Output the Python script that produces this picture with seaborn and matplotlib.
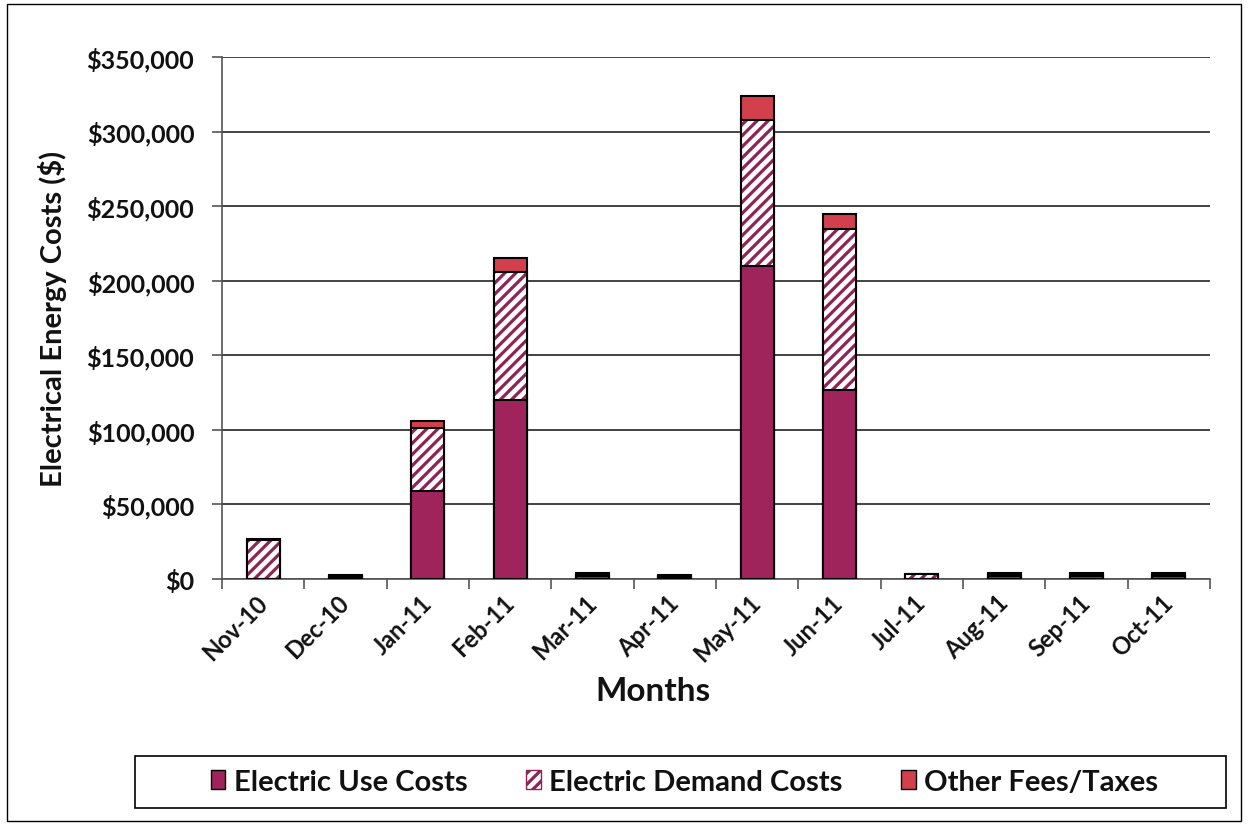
import matplotlib
matplotlib.use("Agg")
import matplotlib.pyplot as plt
import matplotlib.patches as mpatches
from matplotlib.ticker import FuncFormatter, FixedLocator
import numpy as np
import pandas as pd
import seaborn as sns

# Monthly electrical costs, split into three components ($)
months = ["Nov-10", "Dec-10", "Jan-11", "Feb-11", "Mar-11", "Apr-11",
          "May-11", "Jun-11", "Jul-11", "Aug-11", "Sep-11", "Oct-11"]
use_costs = [0, 1200, 59000, 120000, 2200, 1200, 210000, 127000, 0, 2200, 2200, 2200]
demand_costs = [26000, 800, 42000, 86000, 1400, 1000, 98000, 108000, 3000, 1400, 1400, 1400]
other_fees = [500, 400, 5000, 9000, 600, 400, 16000, 10000, 200, 600, 600, 600]

series_labels = ["Electric Use Costs", "Electric Demand Costs", "Other Fees/Taxes"]

USE_COLOR = "#A0245C"
DEMAND_COLOR = "#8E2456"
OTHER_COLOR = "#D2404E"
TEXT_COLOR = "#111111"

df = pd.DataFrame({"month": months, "use": use_costs,
                   "demand": demand_costs, "other": other_fees})
df["use_demand"] = df["use"] + df["demand"]
df["total"] = df["use_demand"] + df["other"]

sns.set_theme(style="white")
plt.rcParams["font.family"] = ["Lato", "DejaVu Sans"]
plt.rcParams["hatch.linewidth"] = 2.3

fig = plt.figure(figsize=(12.48, 8.29), dpi=100)
ax = fig.add_axes([0.178, 0.3004, 0.7916, 0.6296])

bar_w = 0.40
common = dict(data=df, x="month", order=months, width=bar_w, ax=ax,
              saturation=1, errorbar=None)

# Stacked bars drawn as overlapping cumulative totals
sns.barplot(y="total", color=OTHER_COLOR, edgecolor="black", linewidth=1.5, **common)
sns.barplot(y="use_demand", color="white", edgecolor=DEMAND_COLOR, linewidth=0,
            hatch="///", **common)
sns.barplot(y="use_demand", fill=False, color="black", linewidth=1.5, **common)
sns.barplot(y="use", color=USE_COLOR, edgecolor="black", linewidth=1.5, **common)

for p in ax.patches:
    p.set_zorder(3)

ax.set_xlim(-0.5, len(months) - 0.5)
ax.set_ylim(0, 350000)
ax.set_yticks(np.arange(0, 350001, 50000))
ax.yaxis.set_major_formatter(FuncFormatter(lambda v, _: f"${v:,.0f}"))
ax.grid(axis="y", color="#222222", linewidth=1.2, zorder=0)
ax.grid(axis="x", visible=False)
ax.set_axisbelow(True)

for side in ("top", "right"):
    ax.spines[side].set_visible(False)
for side in ("left", "bottom"):
    ax.spines[side].set_color("#555555")
    ax.spines[side].set_linewidth(1.2)

ax.tick_params(axis="y", which="major", left=True, length=7, width=1.2,
               color="#555555", labelsize=18, pad=13)
ax.xaxis.set_minor_locator(FixedLocator(np.arange(-0.5, len(months), 1.0)))
ax.tick_params(axis="x", which="minor", bottom=True, length=7, width=1.2, color="#555555")
ax.tick_params(axis="x", which="major", bottom=False, length=0, pad=14)
for lbl in ax.get_xticklabels():
    lbl.set_rotation(45)
    lbl.set_ha("right")
    lbl.set_va("center")
    lbl.set_rotation_mode("anchor")
    lbl.set_fontsize(17)
    lbl.set_fontweight("bold")
    lbl.set_color(TEXT_COLOR)
for lbl in ax.get_yticklabels():
    lbl.set_fontweight("bold")
    lbl.set_color(TEXT_COLOR)

ax.set_xlabel("")
ax.set_ylabel("Electrical Energy Costs ($)", fontsize=21, fontweight="bold",
              color=TEXT_COLOR, labelpad=14)
fig.text(0.523, 0.166, "Months", fontsize=24, fontweight="bold",
         ha="center", va="center", color=TEXT_COLOR)

handles = [
    mpatches.Patch(facecolor=USE_COLOR, edgecolor="black", linewidth=1.0),
    mpatches.Patch(facecolor="white", edgecolor=DEMAND_COLOR, hatch="///", linewidth=1.0),
    mpatches.Patch(facecolor=OTHER_COLOR, edgecolor="black", linewidth=1.0),
]
leg = fig.legend(handles, series_labels, loc="center", ncol=3,
                 bbox_to_anchor=(0.5485, 0.0555), frameon=False,
                 prop={"size": 21, "weight": "bold"},
                 handlelength=0.5, handleheight=0.6, handletextpad=0.3,
                 columnspacing=2.0)
for t in leg.get_texts():
    t.set_color(TEXT_COLOR)

# Legend box and outer chart border
fig.patches.append(mpatches.Rectangle((135 / 1248, 1 - 809 / 829), 1091 / 1248, 52 / 829,
                                      fill=False, edgecolor="black", linewidth=1.2,
                                      transform=fig.transFigure, figure=fig))
fig.patches.append(mpatches.Rectangle((0.006, 0.008), 0.988, 0.986, fill=False,
                                      edgecolor="black", linewidth=1.0,
                                      transform=fig.transFigure, figure=fig))

fig.savefig("out.png", dpi=100)
